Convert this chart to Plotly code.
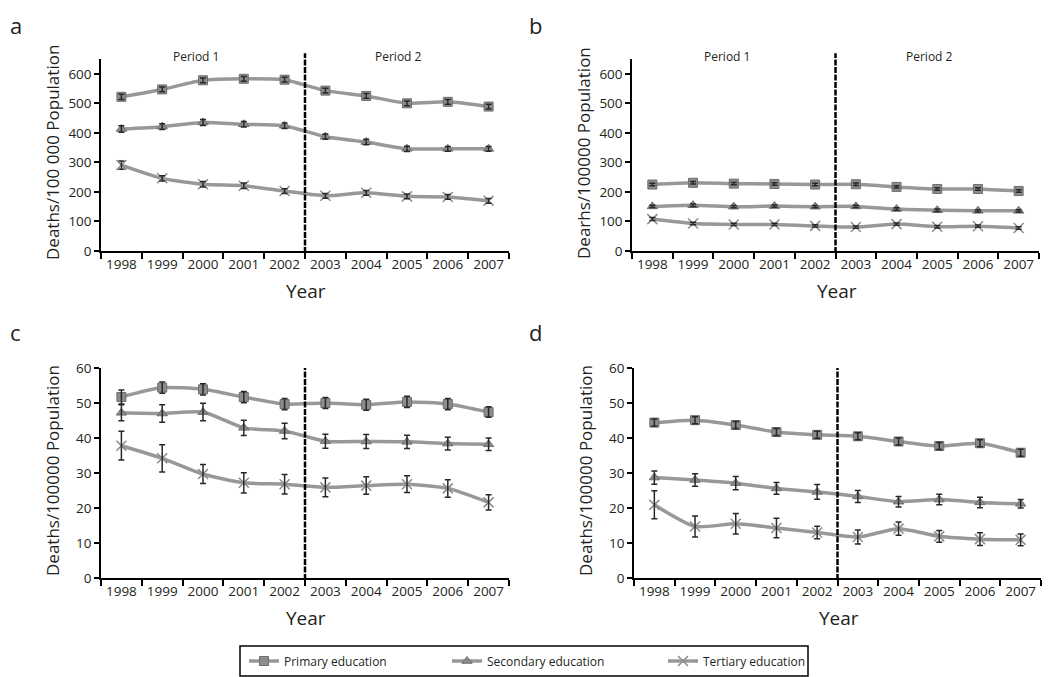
import plotly.graph_objects as go

years = ['1998', '1999', '2000', '2001', '2002', '2003', '2004', '2005', '2006', '2007']
series_names = ['Primary education', 'Secondary education', 'Tertiary education']

a_primary = [522, 547, 578, 583, 580, 543, 525, 500, 505, 489]
a_primary_err = [9, 8, 8, 8, 8, 8, 8, 8, 8, 8]
a_secondary = [413, 421, 435, 429, 424, 387, 369, 346, 346, 346]
a_secondary_err = [11, 10, 10, 9, 9, 9, 9, 9, 8, 8]
a_tertiary = [291, 246, 226, 221, 203, 187, 197, 185, 183, 170]
a_tertiary_err = [14, 9, 9, 9, 8, 8, 8, 8, 8, 8]

b_primary = [225, 231, 228, 227, 225, 226, 217, 210, 210, 203]
b_primary_err = [4, 4, 4, 4, 4, 4, 4, 4, 4, 4]
b_secondary = [151, 155, 150, 152, 150, 151, 142, 138, 136, 136]
b_secondary_err = [4, 4, 4, 4, 4, 4, 4, 4, 4, 4]
b_tertiary = [108, 93, 90, 90, 85, 81, 91, 82, 84, 78]
b_tertiary_err = [5, 4, 4, 4, 4, 4, 4, 4, 4, 4]

c_primary = [51.7, 54.4, 53.9, 51.7, 49.7, 50.0, 49.5, 50.3, 49.7, 47.4]
c_primary_err = [2.0, 1.6, 1.6, 1.6, 1.6, 1.6, 1.6, 1.6, 1.6, 1.5]
c_secondary = [47.2, 47.0, 47.4, 42.9, 42.0, 39.1, 39.0, 38.9, 38.4, 38.2]
c_secondary_err = [2.3, 2.5, 2.5, 2.2, 2.2, 2.0, 2.0, 1.9, 1.8, 1.8]
c_tertiary = [37.8, 34.2, 29.7, 27.2, 26.8, 25.9, 26.4, 26.8, 25.6, 21.6]
c_tertiary_err = [4.1, 3.9, 2.7, 2.9, 2.8, 2.7, 2.5, 2.4, 2.5, 2.2]

d_primary = [44.4, 45.1, 43.7, 41.7, 40.9, 40.5, 39.0, 37.7, 38.5, 35.8]
d_primary_err = [1.0, 1.0, 1.0, 1.0, 1.0, 1.0, 1.0, 1.0, 1.0, 1.0]
d_secondary = [28.7, 28.0, 27.1, 25.6, 24.6, 23.3, 21.8, 22.4, 21.6, 21.2]
d_secondary_err = [1.9, 1.8, 1.9, 1.7, 2.1, 1.7, 1.5, 1.5, 1.5, 1.2]
d_tertiary = [20.9, 14.7, 15.5, 14.3, 13.0, 11.7, 14.1, 11.9, 11.1, 10.9]
d_tertiary_err = [4.0, 3.0, 2.9, 2.8, 1.8, 2.0, 1.9, 1.7, 1.8, 1.7]

panels = [
    ('a', [a_primary, a_secondary, a_tertiary], [a_primary_err, a_secondary_err, a_tertiary_err]),
    ('b', [b_primary, b_secondary, b_tertiary], [b_primary_err, b_secondary_err, b_tertiary_err]),
    ('c', [c_primary, c_secondary, c_tertiary], [c_primary_err, c_secondary_err, c_tertiary_err]),
    ('d', [d_primary, d_secondary, d_tertiary], [d_primary_err, d_secondary_err, d_tertiary_err]),
]

W, H = 1050, 677
OFF = 8  # page offset of the plot div (default body margin)
FONT = 'Open Sans'
TXT = '#231f20'
LINE = 'rgb(152,152,152)'
MARK = 'rgb(140,140,140)'
ERR = 'rgb(40,40,40)'
symbols = ['square', 'triangle-up', 'x-thin-open']


def px(x):
    return max(0.0, (x - OFF) / W)


def py(y):
    return 1 - (y - OFF) / H


# page-pixel boxes: left, right, top, bottom
boxes = [(101, 509, 59, 251), (632, 1039, 59, 251), (101, 509, 368, 578), (634, 1041, 368, 578)]
ranges = [[0, 650], [0, 650], [0, 60], [0, 60]]
dticks = [100, 100, 10, 10]
legend_ids = ['legend', 'legend2', 'legend3']
legend_x = [244, 447, 663]

fig = go.Figure()
layout = {}
annotations = []
shapes = []

for i, (label, vals, errs) in enumerate(panels):
    n = '' if i == 0 else str(i + 1)
    xa, ya = 'x' + n, 'y' + n
    l, r, t, b = boxes[i]
    for k in range(3):
        marker = dict(symbol=symbols[k], size=9 if k < 2 else 10, color=MARK,
                      line=dict(color='rgb(110,110,110)' if k < 2 else 'rgb(80,80,80)',
                                width=1 if k < 2 else 1.5))
        fig.add_trace(go.Scatter(
            x=years, y=vals[k], xaxis=xa, yaxis=ya, mode='lines+markers',
            name=series_names[k], showlegend=(i == 0), legend=legend_ids[k],
            line=dict(color=LINE, width=3.5, shape='spline', smoothing=0.6),
            marker=marker))
        fig.add_trace(go.Scatter(
            x=years, y=vals[k], xaxis=xa, yaxis=ya, mode='markers', showlegend=False,
            marker=dict(color='rgba(0,0,0,0)', size=1),
            error_y=dict(type='data', array=errs[k], color=ERR, thickness=1.5, width=3),
            hoverinfo='skip'))
    layout['xaxis' + n] = dict(
        domain=[px(l), px(r)], anchor=ya, type='category', categoryarray=years,
        range=[-0.5, 9.5], showline=True, linecolor='black', linewidth=1.5,
        ticks='outside', tickson='boundaries', ticklen=6, tickwidth=1.5, tickcolor='black',
        showgrid=False, zeroline=False, automargin=False,
        tickfont=dict(family=FONT, size=13.5, color=TXT))
    layout['yaxis' + n] = dict(
        domain=[py(b), py(t)], anchor=xa, range=ranges[i], dtick=dticks[i],
        showline=True, linecolor='black', linewidth=1.5, ticks='outside', ticklen=5,
        tickwidth=1.5, tickcolor='black', showgrid=False, zeroline=False, automargin=False,
        tickfont=dict(family=FONT, size=13.5, color=TXT))
    # vertical divider between the two periods
    top_ext = 1.03 if i < 2 else 1.0
    shapes.append(dict(type='line', xref=xa, yref=ya + ' domain', x0=4.5, x1=4.5,
                       y0=-0.01, y1=top_ext,
                       line=dict(color='black', width=2.5, dash='6px,1.5px')))
    # panel letter
    if i < 2:
        annotations.append(dict(text=label, xref='paper', yref='paper',
                                x=px(0 if l < 500 else 527), y=1.0,
                                xanchor='left', yanchor='top', showarrow=False,
                                font=dict(family=FONT, size=22, color=TXT)))
    else:
        annotations.append(dict(text=label, xref='paper', yref='paper',
                                x=px(0 if l < 500 else 527), y=py(332),
                                xanchor='left', yanchor='middle', showarrow=False,
                                font=dict(family=FONT, size=22, color=TXT)))
    # y title
    ytitle = 'Dearhs/100000 Population' if label == 'b' else (
        'Deaths/100 000 Population' if label == 'a' else 'Deaths/100000 Population')
    annotations.append(dict(text=ytitle, xref='paper', yref='paper', textangle=-90,
                            x=px(l - 49), y=py((t + b) / 2 - 2),
                            xanchor='center', yanchor='middle', showarrow=False,
                            font=dict(family=FONT, size=17, color=TXT)))
    # x title
    annotations.append(dict(text='Year', xref='paper', yref='paper',
                            x=px((l + r) / 2 + 1), y=py(b + 40),
                            xanchor='center', yanchor='middle', showarrow=False,
                            font=dict(family=FONT, size=19, color=TXT)))
    if i < 2:
        for txt, cx in (('Period 1', 1.83), ('Period 2', 6.8)):
            annotations.append(dict(text=txt, xref=xa, yref='paper', x=cx,
                                    y=py(57), xanchor='center', yanchor='middle',
                                    showarrow=False, font=dict(family=FONT, size=12, color=TXT)))

# legend frame
shapes.append(dict(type='rect', xref='paper', yref='paper', x0=px(240), x1=px(808),
                   y0=py(676), y1=py(646), line=dict(color='black', width=1.5)))

for k in range(3):
    layout[legend_ids[k]] = dict(x=px(legend_x[k]), y=py(661), xanchor='left', yanchor='middle',
                                 bgcolor='rgba(0,0,0,0)', borderwidth=0,
                                 font=dict(family=FONT, size=12, color=TXT))

fig.update_layout(
    width=W, height=H, margin=dict(l=0, r=0, t=0, b=0, pad=0, autoexpand=False),
    paper_bgcolor='white', plot_bgcolor='white',
    annotations=annotations, shapes=shapes,
    **layout)

fig.write_html('out.html')
